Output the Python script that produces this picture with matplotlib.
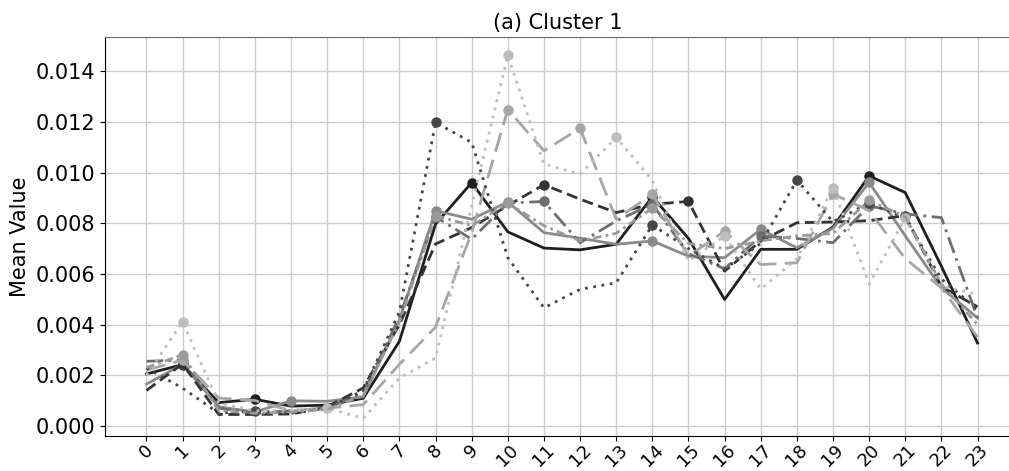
import numpy as np
import matplotlib
matplotlib.use("Agg")
import matplotlib.pyplot as plt

hours = list(range(24))

s1 = [2.05, 2.42, 0.92, 1.05, 0.78, 0.82, 1.09, 3.34, 7.97, 9.6, 7.66, 7.02, 6.95, 7.17,
      9.05, 7.4, 4.99, 6.97, 6.97, 7.85, 9.87, 9.21, 6.3, 3.27]
s2 = [1.65, 2.43, 0.75, 0.55, 0.99, 0.97, 1.15, 4.2, 8.49, 8.16, 8.84, 7.63, 7.41, 7.17,
      7.3, 6.7, 6.64, 7.76, 7.03, 7.8, 9.61, 7.5, 5.45, 4.26]
s3 = [1.4, 2.45, 0.45, 0.45, 0.47, 0.75, 1.5, 4.0, 7.18, 7.83, 8.7, 9.52, 8.95, 8.42,
      8.75, 8.86, 6.11, 7.3, 8.02, 8.05, 8.1, 8.3, 5.5, 4.7]
s4 = [2.55, 2.6, 0.7, 0.5, 0.6, 0.7, 1.3, 4.3, 8.25, 7.37, 8.8, 8.86, 7.23, 8.09,
      8.75, 6.8, 6.2, 7.5, 7.4, 7.23, 8.69, 8.37, 8.22, 4.26]
s5 = [2.2, 2.6, 1.1, 1.0, 0.6, 0.7, 0.84, 2.43, 3.9, 7.63, 12.49, 10.86, 11.75, 8.16,
      9.15, 6.7, 7.69, 6.37, 6.44, 9.15, 8.5, 6.6, 5.45, 3.5]
s6 = [2.28, 1.49, 0.5, 0.6, 0.5, 0.7, 1.4, 4.5, 11.98, 11.19, 6.64, 4.66, 5.39, 5.65,
      7.93, 7.0, 6.2, 7.2, 9.7, 8.06, 8.8, 8.2, 5.8, 4.6]
s7 = [2.0, 4.1, 0.9, 0.6, 0.6, 0.7, 0.3, 1.89, 2.68, 8.7, 14.63, 10.34, 9.94, 11.39,
      9.7, 6.5, 7.5, 5.4, 6.6, 9.4, 5.6, 8.2, 5.5, 5.2]
s8 = [2.3, 2.81, 0.6, 0.5, 0.55, 0.65, 1.2, 4.1, 8.3, 7.9, 8.8, 7.9, 7.3, 7.6,
      8.6, 7.2, 7.0, 7.3, 7.5, 7.6, 8.9, 8.25, 5.6, 4.0]

series = [s1, s2, s3, s4, s5, s6, s7, s8]
colors = ["#1e1e1e", "#8a8a8a", "#333333", "#6e6e6e", "#a6a6a6", "#474747", "#bdbdbd", "#9a9a9a"]
styles = ["-", "-", (0, (4, 2)), (0, (6, 2, 1, 2)), (0, (7, 3)), (0, (1, 2)), (0, (1, 2)), (0, (3, 1.5, 1, 1.5))]

title = "(a) Cluster 1"
ylabel = "Mean Value"

fig = plt.figure(figsize=(10.09, 4.71), dpi=100)
ax = fig.add_axes([0.104, 0.0743, 0.906, 0.847])

x = np.array(hours)
for vals, c, ls in zip(series, colors, styles):
    y = np.array(vals) / 1000.0
    # mark interior local maxima of each profile
    peaks = [i for i in range(1, len(y) - 1) if y[i] > y[i - 1] and y[i] > y[i + 1]]
    ax.plot(x, y, color=c, linestyle=ls, linewidth=2.0, marker="o", markersize=6.5,
            markevery=peaks)

ax.set_xlim(-1.15, 24.15)
ax.set_ylim(-0.0004, 0.01535)
ax.set_xticks(hours)
ax.set_xticklabels([str(h) for h in hours], rotation=45, fontsize=13)
ax.tick_params(axis="x", pad=0)
ax.set_yticks(np.arange(0, 0.0141, 0.002))
ax.set_yticklabels([f"{v:.3f}" for v in np.arange(0, 0.0141, 0.002)], fontsize=15)
ax.set_ylabel(ylabel, fontsize=15)
ax.set_title(title, fontsize=15, pad=6, x=0.495)
ax.grid(True, color="#cccccc", linewidth=1.0)
ax.set_axisbelow(True)
ax.spines["top"].set_color("#666666")
ax.spines["right"].set_visible(False)

fig.savefig("out.png", dpi=100)
